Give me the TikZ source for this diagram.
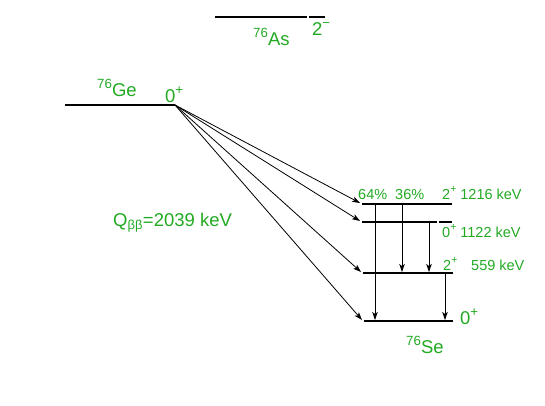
\documentclass[tikz,border=0pt]{standalone}
\usepackage{fontspec}
\setmainfont{Liberation Sans}
\usetikzlibrary{arrows.meta}
\definecolor{lblgreen}{RGB}{34,170,34}
\newcommand{\supr}[1]{\raisebox{0.42em}{\scalebox{0.72}{#1}}}
\tikzset{
  level/.style={line width=1.8pt},
  trans/.style={line width=0.8pt,-{Stealth[length=8pt,width=5.5pt,inset=2pt]}},
  big/.style={text=lblgreen,inner sep=0pt,anchor=base west,font=\fontsize{18.5}{20}\selectfont},
  small/.style={text=lblgreen,inner sep=0pt,anchor=base west,font=\fontsize{14.5}{16}\selectfont}
}
\begin{document}
\begin{tikzpicture}[x=1pt,y=-1pt]
\useasboundingbox (0,0) rectangle (545,405);
% levels
\coordinate (asL) at (215,17); \coordinate (asR) at (325,17);
\draw[level] (asL) -- (307,17); \draw[level] (309,17) -- (asR);
\coordinate (geL) at (65,105); \coordinate (ge) at (175,105);
\draw[level] (geL) -- (ge);
\coordinate (a1) at (362,204); \coordinate (b1) at (452,204);
\coordinate (a2) at (362,222); \coordinate (b2) at (452,222);
\coordinate (a3) at (363,273); \coordinate (b3) at (453,273);
\coordinate (a4) at (364,321); \coordinate (b4) at (453,321);
\draw[level] (a1) -- (b1);
\draw[level] (a2) -- (437,222); \draw[level] (439,222) -- (b2);
\draw[level] (a3) -- (b3);
\draw[level] (a4) -- (b4);
% decays
\coordinate (t1) at (360,203);
\coordinate (t2) at (360,221);
\coordinate (t3) at (361,272);
\coordinate (t4) at (362,320);
\draw[trans] (ge) -- (t1);
\draw[trans] (ge) -- (t2);
\draw[trans] (ge) -- (t3);
\draw[trans] (ge) -- (t4);
% gammas
\coordinate (g1s) at (375,204); \coordinate (g1e) at (375,320);
\coordinate (g2s) at (402,204); \coordinate (g2e) at (402,272);
\coordinate (g3s) at (429,222); \coordinate (g3e) at (429,272);
\coordinate (g4s) at (445,273); \coordinate (g4e) at (445,320);
\draw[trans] (g1s) -- (g1e);
\draw[trans] (g2s) -- (g2e);
\draw[trans] (g3s) -- (g3e);
\draw[trans] (g4s) -- (g4e);
% labels
\node[big] (as) at (253,45) {\supr{76}As};
\node[big] (asj) at (312,35) {2\supr{−}};
\node[big] (gel) at (97,96) {\supr{76}Ge};
\node[big] (gej) at (165,102) {0\supr{+}};
\node[big] (q) at (113,226) {Q\textsubscript{ββ}=2039 keV};
\node[small] (p64) at (358,199) {64\%};
\node[small] (p36) at (395,199) {36\%};
\node[small] (e1216) at (442,199) {2\supr{+} 1216 keV};
\node[small] (e1122) at (442,237) {0\supr{+} 1122 keV};
\node[small] (j559) at (443,270) {2\supr{+}};
\node[small] (e559) at (471,270) {559 keV};
\node[big] (j0) at (460,324) {0\supr{+}};
\node[big] (se) at (406,353) {\supr{76}Se};
\end{tikzpicture}
\end{document}
